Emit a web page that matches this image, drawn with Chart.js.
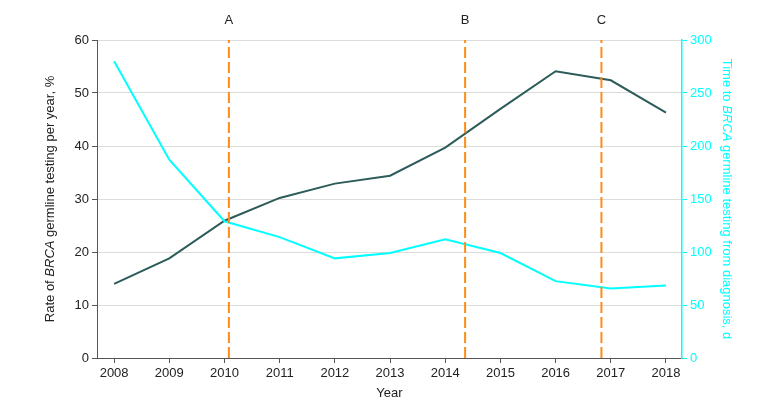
<!DOCTYPE html>
<html><head><meta charset="utf-8">
<script src="https://cdn.jsdelivr.net/npm/chart.js@4/dist/chart.umd.min.js"></script>
<style>html,body{margin:0;padding:0;background:#fff;} canvas{display:block}</style>
</head><body>
<canvas id="c" width="780" height="413"></canvas>
<script>
const years = [2008, 2009, 2010, 2011, 2012, 2013, 2014, 2015, 2016, 2017, 2018];
const testingRate = [14.0, 18.8, 25.9, 30.2, 32.9, 34.4, 39.7, 47.0, 54.1, 52.4, 46.3];
const timeToTesting = [280, 187, 129, 114, 94, 99, 112, 99, 72.5, 65.5, 68.5];
const markerYears = [2010.08, 2014.36, 2016.83];
const markerLabels = ['A', 'B', 'C'];
const leftTicks = [0, 10, 20, 30, 40, 50, 60];
const rightTicks = [0, 50, 100, 150, 200, 250, 300];

const FONT = '"Liberation Sans", Arial, sans-serif';
const DARK = '#2c5c59';
const CYAN = '#00ffff';
const ORANGE = '#ff8c1a';
const AXIS = '#555555';

const markerSets = markerYears.map((m, i) => ({
  label: markerLabels[i],
  data: [{x: m, y: 0}, {x: m, y: 60}],
  yAxisID: 'y',
  borderColor: ORANGE,
  borderWidth: 2,
  borderDash: [11, 4],
  pointRadius: 0,
  fill: false
}));

function drawMixed(ctx, segs, size) {
  let total = 0;
  segs.forEach(s => { ctx.font = (s.i ? 'italic ' : '') + size + 'px ' + FONT; s.w = ctx.measureText(s.t).width; total += s.w; });
  let x = -total / 2;
  segs.forEach(s => { ctx.font = (s.i ? 'italic ' : '') + size + 'px ' + FONT; ctx.fillText(s.t, x, 0); x += s.w; });
}

const annot = {
  id: 'annot',
  afterDraw(chart) {
    const ctx = chart.ctx, ca = chart.chartArea, xs = chart.scales.x;
    ctx.save();
    ctx.textBaseline = 'middle';
    ctx.fillStyle = '#222';
    ctx.font = '13px ' + FONT;
    ctx.textAlign = 'center';
    markerYears.forEach((m, i) => ctx.fillText(markerLabels[i], xs.getPixelForValue(m), 20));
    ctx.textAlign = 'left';
    const cy = (ca.top + ca.bottom) / 2;
    ctx.save();
    ctx.translate(50, cy);
    ctx.rotate(-Math.PI / 2);
    ctx.fillStyle = '#222';
    drawMixed(ctx, [{t: 'Rate of ', i: false}, {t: 'BRCA', i: true}, {t: ' germline testing per year, %', i: false}], 13);
    ctx.restore();
    ctx.save();
    ctx.translate(727, cy);
    ctx.rotate(Math.PI / 2);
    ctx.fillStyle = CYAN;
    drawMixed(ctx, [{t: 'Time to ', i: false}, {t: 'BRCA', i: true}, {t: ' germline testing from diagnosis, d', i: false}], 13);
    ctx.restore();
    ctx.fillStyle = '#222';
    ctx.font = '13px ' + FONT;
    ctx.textAlign = 'center';
    ctx.fillText('Year', (ca.left + ca.right) / 2, 393);
    ctx.restore();
  }
};

new Chart(document.getElementById('c'), {
  type: 'line',
  data: {
    datasets: [
      ...markerSets,
      {
        label: 'Time to testing',
        data: years.map((y, i) => ({x: y, y: timeToTesting[i]})),
        yAxisID: 'y1',
        borderColor: CYAN,
        borderWidth: 2,
        pointRadius: 0,
        tension: 0,
        fill: false
      },
      {
        label: 'Rate of testing',
        data: years.map((y, i) => ({x: y, y: testingRate[i]})),
        yAxisID: 'y',
        borderColor: DARK,
        borderWidth: 2,
        pointRadius: 0,
        tension: 0,
        fill: false
      }
    ]
  },
  options: {
    responsive: false,
    animation: false,
    events: [],
    layout: {padding: {top: 40, left: 0, right: 0, bottom: 0}},
    plugins: {legend: {display: false}, tooltip: {enabled: false}},
    scales: {
      x: {
        type: 'linear',
        min: 2007.69,
        max: 2018.29,
        afterBuildTicks: s => { s.ticks = years.map(v => ({value: v})); },
        afterFit: s => { s.height = 55; },
        ticks: {
          color: '#222', font: {family: FONT, size: 13}, padding: 3,
          callback: v => String(v), maxRotation: 0, autoSkip: false
        },
        grid: {drawOnChartArea: false, tickLength: 5, tickColor: AXIS},
        border: {color: AXIS, width: 1}
      },
      y: {
        position: 'left',
        min: 0, max: 60,
        afterBuildTicks: s => { s.ticks = leftTicks.map(v => ({value: v})); },
        afterFit: s => { s.width = 97; },
        ticks: {color: '#222', font: {family: FONT, size: 13}, padding: 3},
        grid: {color: '#dcdcdc', lineWidth: 1, tickLength: 5, tickColor: AXIS},
        border: {color: AXIS, width: 1}
      },
      y1: {
        position: 'right',
        min: 0, max: 300,
        afterBuildTicks: s => { s.ticks = rightTicks.map(v => ({value: v})); },
        afterFit: s => { s.width = 98; },
        ticks: {color: CYAN, font: {family: FONT, size: 13}, padding: 3},
        grid: {drawOnChartArea: false, tickLength: 5, color: CYAN, tickColor: CYAN},
        border: {color: CYAN, width: 1.5}
      }
    }
  },
  plugins: [annot]
});
</script>
</body></html>
